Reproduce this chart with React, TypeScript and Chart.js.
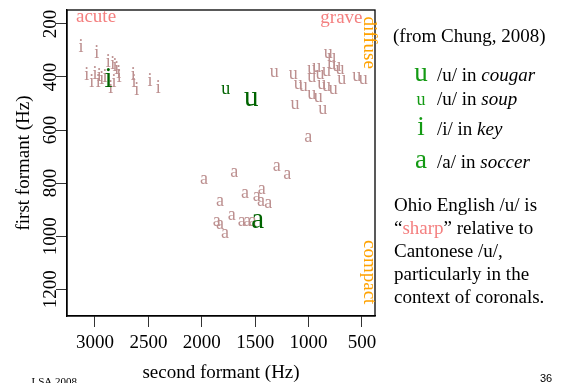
import { useEffect, useRef } from 'react';
import { Chart, registerables } from 'chart.js';

Chart.register(...registerables);

const SERIF = '"Liberation Serif", "Times New Roman", serif';
const SANS = '"Liberation Sans", Arial, sans-serif';

// tick labels
const xTicks = [3000, 2500, 2000, 1500, 1000, 500];
const yTicks = [200, 400, 600, 800, 1000, 1200];

// /i/ tokens (F2, F1)
const iF2 = [3131, 2984, 3078, 3031, 3000, 2960, 2937, 2969, 2906, 2875, 2834, 2813, 2797, 2778, 2772, 2822, 2853, 2641, 2635, 2610, 2485, 2407];
const iF1 = [292, 311, 396, 424, 392, 399, 411, 424, 405, 348, 355, 361, 374, 389, 405, 424, 446, 396, 424, 452, 418, 443];

// /u/ tokens
const uF2 = [1321, 1143, 1097, 1050, 971, 924, 971, 893, 831, 816, 784, 784, 737, 706, 690, 877, 831, 769, 971, 909, 1127, 868, 550, 488];
const uF1 = [386, 392, 430, 437, 374, 367, 405, 392, 380, 311, 329, 355, 361, 374, 411, 430, 437, 449, 468, 480, 506, 525, 399, 411];

// /a/ tokens
const aF2 = [1979, 1696, 1299, 1200, 1596, 1830, 1486, 1439, 1446, 1377, 1861, 1830, 1783, 1720, 1626, 1574, 1524, 1003];
const aF1 = [789, 761, 738, 770, 839, 871, 852, 826, 871, 877, 946, 959, 990, 925, 948, 948, 948, 631];

// English means
const soupF2 = [1776];
const soupF1 = [449];
const cougarF2 = [1537];
const cougarF1 = [484];
const keyF2 = [2872];
const keyF1 = [411];
const soccerF2 = [1476];
const soccerF1 = [946];

const ROSY = '#bc8f8f';
const DKGREEN = '#006400';
const LEGGREEN = '#139a13';
const PINK = '#f48080';
const ORANGE = '#ffa200';

const series = [
  { glyph: 'i', xs: iF2, ys: iF1, color: ROSY, size: 18 },
  { glyph: 'u', xs: uF2, ys: uF1, color: ROSY, size: 18 },
  { glyph: 'a', xs: aF2, ys: aF1, color: ROSY, size: 18 },
  { glyph: 'u', xs: soupF2, ys: soupF1, color: DKGREEN, size: 18 },
  { glyph: 'u', xs: cougarF2, ys: cougarF1, color: DKGREEN, size: 29 },
  { glyph: 'i', xs: keyF2, ys: keyF1, color: DKGREEN, size: 29 },
  { glyph: 'a', xs: soccerF2, ys: soccerF1, color: DKGREEN, size: 29 },
];

export default function App() {
  const ref = useRef<HTMLCanvasElement>(null);

  useEffect(() => {
    document.body.style.margin = '0';
    const canvas = ref.current!;

    const glyphPlugin = {
      id: 'glyphs',
      afterDatasetsDraw(chart: any) {
        const ctx = chart.ctx;
        chart.data.datasets.forEach((_ds: any, i: number) => {
          const meta = chart.getDatasetMeta(i);
          const st = series[i];
          ctx.save();
          ctx.font = `${st.size}px ${SERIF}`;
          ctx.fillStyle = st.color;
          ctx.textAlign = 'center';
          ctx.textBaseline = 'alphabetic';
          meta.data.forEach((el: any) => {
            ctx.fillText(st.glyph, el.x, el.y + st.size * 0.23);
          });
          ctx.restore();
        });
      },
      afterDraw(chart: any) {
        const ctx = chart.ctx;
        const ca = chart.chartArea;
        const ys = chart.scales.y;
        ctx.save();
        // box
        ctx.strokeStyle = '#000';
        ctx.lineWidth = 1.3;
        ctx.strokeRect(ca.left, ca.top, ca.right - ca.left, ca.bottom - ca.top);

        ctx.fillStyle = '#000';
        ctx.font = `19px ${SERIF}`;
        ctx.textBaseline = 'alphabetic';
        // y tick labels (rotated)
        yTicks.forEach((v) => {
          const py = ys.getPixelForValue(v);
          ctx.save();
          ctx.translate(55.5, py);
          ctx.rotate(-Math.PI / 2);
          ctx.textAlign = 'center';
          ctx.fillText(String(v), 0, 0);
          ctx.restore();
        });
        // axis titles
        ctx.textAlign = 'center';
        ctx.fillText('second formant (Hz)', (ca.left + ca.right) / 2, 377.5);
        ctx.save();
        ctx.translate(29, (ca.top + ca.bottom) / 2);
        ctx.rotate(-Math.PI / 2);
        ctx.fillText('first formant (Hz)', 0, 0);
        ctx.restore();

        // corner annotations
        ctx.fillStyle = PINK;
        ctx.textAlign = 'left';
        ctx.fillText('acute', 76, 22);
        ctx.textAlign = 'right';
        ctx.fillText('grave', 362.5, 22.5);
        ctx.fillStyle = ORANGE;
        ctx.textAlign = 'left';
        ctx.save();
        ctx.translate(364, 16.5);
        ctx.rotate(Math.PI / 2);
        ctx.fillText('diffuse', 0, 0);
        ctx.restore();
        ctx.save();
        ctx.translate(364, 240);
        ctx.rotate(Math.PI / 2);
        ctx.fillText('compact', 0, 0);
        ctx.restore();

        // right column
        ctx.fillStyle = '#000';
        ctx.textAlign = 'left';
        ctx.font = `19px ${SERIF}`;
        ctx.fillText('(from Chung, 2008)', 393, 42);

        const legendRows = [
          { g: 'u', gs: 27, pre: '/u/ in ', it: 'cougar', y: 81 },
          { g: 'u', gs: 18, pre: '/u/ in ', it: 'soup', y: 105 },
          { g: 'i', gs: 27, pre: '/i/ in ', it: 'key', y: 135 },
          { g: 'a', gs: 27, pre: '/a/ in ', it: 'soccer', y: 168 },
        ];
        legendRows.forEach((r) => {
          ctx.fillStyle = LEGGREEN;
          ctx.font = `${r.gs}px ${SERIF}`;
          ctx.textAlign = 'center';
          ctx.fillText(r.g, 421, r.y);
          ctx.textAlign = 'left';
          ctx.fillStyle = '#000';
          ctx.font = `19px ${SERIF}`;
          ctx.fillText(r.pre, 437, r.y);
          const w = ctx.measureText(r.pre).width;
          ctx.font = `italic 19px ${SERIF}`;
          ctx.fillText(r.it, 437 + w, r.y);
        });

        ctx.font = `19px ${SERIF}`;
        const lx = 394;
        const lh = 23.2;
        const b0 = 210.5;
        ctx.fillText('Ohio English /u/ is', lx, b0);
        let cx = lx;
        ctx.fillText('\u201C', cx, b0 + lh);
        cx += ctx.measureText('\u201C').width;
        ctx.fillStyle = PINK;
        ctx.fillText('sharp', cx, b0 + lh);
        cx += ctx.measureText('sharp').width;
        ctx.fillStyle = '#000';
        ctx.fillText('\u201D relative to', cx, b0 + lh);
        ctx.fillText('Cantonese /u/,', lx, b0 + lh * 2);
        ctx.fillText('particularly in the', lx, b0 + lh * 3);
        ctx.fillText('context of coronals.', lx, b0 + lh * 4);

        // footer
        ctx.font = `11px ${SERIF}`;
        ctx.fillText('LSA 2008', 31.5, 384.5);
        ctx.font = `11px ${SANS}`;
        ctx.fillText('36', 540, 381.5);
        ctx.restore();
      },
    };

    const chart = new Chart(canvas, {
      type: 'scatter',
      data: {
        datasets: series.map((s) => ({
          label: s.glyph,
          data: s.xs.map((x, j) => ({ x, y: s.ys[j] })),
          pointRadius: 0,
          pointHoverRadius: 0,
          showLine: false,
        })),
      },
      options: {
        animation: false,
        responsive: false,
        maintainAspectRatio: false,
        events: [],
        layout: { padding: { left: 0, right: 191, top: 10, bottom: 0 } },
        plugins: { legend: { display: false }, tooltip: { enabled: false } },
        scales: {
          x: {
            type: 'linear',
            reverse: true,
            min: 378,
            max: 3262,
            afterBuildTicks: (s: any) => {
              s.ticks = xTicks.map((v) => ({ value: v }));
            },
            afterFit: (s: any) => {
              s.height = 67;
            },
            grid: { display: true, drawOnChartArea: false, drawTicks: true, tickLength: 11, color: '#333', lineWidth: 1 },
            border: { display: true, color: '#000', width: 1.3 },
            ticks: {
              font: { family: SERIF, size: 19 },
              color: '#000',
              padding: 5,
              maxRotation: 0,
              minRotation: 0,
              autoSkip: false,
              callback: (v: any) => String(v),
            },
          },
          y: {
            type: 'linear',
            reverse: true,
            min: 147.5,
            max: 1301,
            afterBuildTicks: (s: any) => {
              s.ticks = yTicks.map((v) => ({ value: v }));
            },
            afterFit: (s: any) => {
              s.width = 67;
            },
            grid: { display: true, drawOnChartArea: false, drawTicks: true, tickLength: 11, color: '#333', lineWidth: 1 },
            border: { display: true, color: '#000', width: 1.3 },
            ticks: { display: false },
          },
        },
      },
      plugins: [glyphPlugin],
    });
    return () => chart.destroy();
  }, []);

  return (
    <div style={{ position: 'absolute', left: 0, top: 0, width: 566, height: 383, background: '#fff' }}>
      <canvas ref={ref} width={566} height={383} style={{ width: 566, height: 383, display: 'block' }} />
    </div>
  );
}
